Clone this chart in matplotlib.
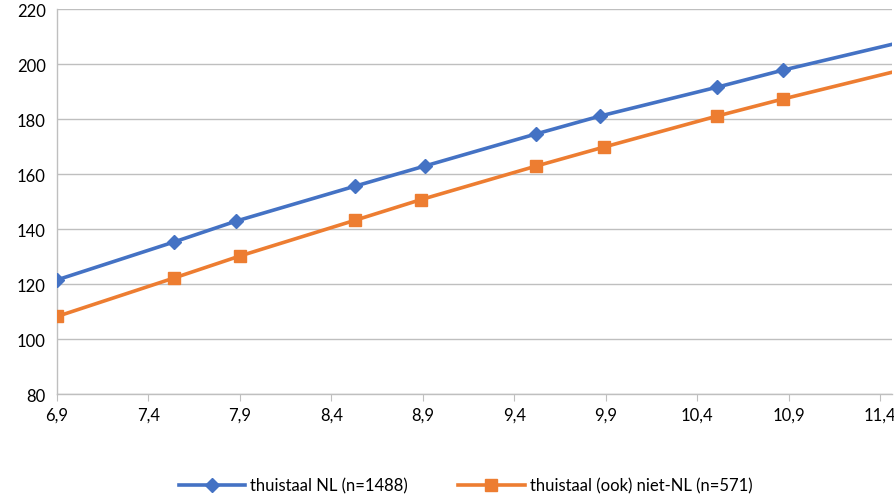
import matplotlib.pyplot as plt

# values
x_nl = [6.9, 7.54, 7.88, 8.53, 8.91, 9.52, 9.87, 10.51, 10.87, 11.55]
y_nl = [121.5, 135.3, 142.9, 155.6, 162.9, 174.6, 181.1, 191.6, 197.8, 208.5]
x_niet = [6.9, 7.54, 7.90, 8.53, 8.89, 9.52, 9.89, 10.51, 10.87, 11.55]
y_niet = [108.2, 122.2, 130.2, 143.2, 150.7, 162.9, 169.8, 181.1, 187.3, 198.4]
xticks = [6.9, 7.4, 7.9, 8.4, 8.9, 9.4, 9.9, 10.4, 10.9, 11.4]
yticks = [80, 100, 120, 140, 160, 180, 200, 220]

plt.rcParams['font.family'] = ['Lato', 'DejaVu Sans']
plt.rcParams['font.size'] = 12

fig = plt.figure(figsize=(8.95, 5.02), dpi=100)
ax = fig.add_axes([0.0637, 0.2131, 0.9329, 0.7669])

n = len(x_nl) - 1
ax.plot(x_nl, y_nl, color="#4472C4", lw=2.6, marker="D", ms=7,
        markevery=list(range(n)), label="thuistaal NL (n=1488)", zorder=3)
ax.plot(x_niet, y_niet, color="#ED7D31", lw=2.6, marker="s", ms=9,
        markevery=list(range(n)), label="thuistaal (ook) niet-NL (n=571)", zorder=3)

ax.set_xlim(6.9, 11.465)
ax.set_ylim(80, 220)
ax.set_xticks(xticks)
ax.set_xticklabels([str(t).replace(".", ",") for t in xticks])
ax.set_yticks(yticks)
ax.grid(axis="y", color="#BFBFBF", lw=1)
ax.set_axisbelow(True)
for s in ["top", "right"]:
    ax.spines[s].set_visible(False)
for s in ["left", "bottom"]:
    ax.spines[s].set_color("#BFBFBF")
    ax.spines[s].set_linewidth(1)
ax.tick_params(axis="x", length=5, color="#BFBFBF", pad=4)
ax.tick_params(axis="y", length=0, pad=8)

fig.legend(loc="lower center", ncol=2, frameon=False, bbox_to_anchor=(0.52, -0.015),
           handlelength=4, columnspacing=3, handletextpad=0.3)
fig.savefig("out.png", dpi=100)
